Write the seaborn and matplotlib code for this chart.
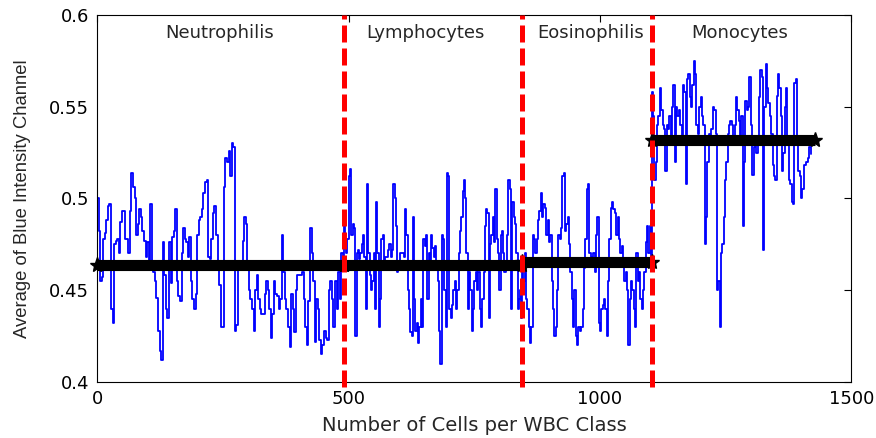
import numpy as np
import pandas as pd
import matplotlib
matplotlib.use("Agg")
import matplotlib.pyplot as plt
import seaborn as sns

# WBC classes, their cell counts and per-class mean of the blue channel
classes = ["Neutrophilis", "Lymphocytes", "Eosinophilis", "Monocytes"]
class_sizes = [490, 355, 258, 317]
class_means = [0.4635, 0.4635, 0.4655, 0.5320]

neutrophilis = [
    0.500, 0.482, 0.455, 0.457, 0.478, 0.481, 0.488, 0.496, 0.497, 0.440, 0.432, 0.475,
    0.477, 0.478, 0.470, 0.487, 0.493, 0.493, 0.478, 0.478, 0.470, 0.493, 0.514, 0.506,
    0.500, 0.480, 0.486, 0.494, 0.490, 0.482, 0.477, 0.468, 0.476, 0.466, 0.497, 0.465,
    0.460, 0.455, 0.446, 0.428, 0.417, 0.412, 0.476, 0.458, 0.440, 0.435, 0.476, 0.454,
    0.479, 0.482, 0.494, 0.455, 0.447, 0.444, 0.470, 0.484, 0.478, 0.476, 0.468, 0.479,
    0.455, 0.445, 0.440, 0.448, 0.480,
    0.488, 0.490, 0.494, 0.503, 0.509, 0.510, 0.468, 0.467, 0.478, 0.492, 0.496, 0.480,
    0.462, 0.453, 0.430, 0.430, 0.506, 0.522, 0.520, 0.526, 0.512, 0.530, 0.528, 0.428,
    0.431, 0.463, 0.463, 0.462, 0.477, 0.490, 0.486, 0.465, 0.450, 0.445, 0.440, 0.428,
    0.450, 0.458, 0.445, 0.440, 0.437, 0.437, 0.448, 0.455, 0.450, 0.440, 0.424, 0.437,
    0.455, 0.448, 0.447, 0.440, 0.445, 0.480, 0.460, 0.445, 0.440, 0.430, 0.419, 0.448,
    0.440, 0.427, 0.450, 0.458, 0.458,
    0.458, 0.460, 0.445, 0.430, 0.420, 0.444, 0.484, 0.470, 0.455, 0.422, 0.445, 0.440,
    0.423, 0.415, 0.420, 0.428, 0.424, 0.423, 0.450, 0.455, 0.445, 0.430, 0.455, 0.440,
    0.460, 0.445, 0.470, 0.468,
]
lymphocytes = [
    0.490, 0.475, 0.470, 0.478, 0.512, 0.516, 0.480, 0.486, 0.484, 0.425, 0.470, 0.472,
    0.467, 0.470, 0.475, 0.480, 0.468, 0.440, 0.508, 0.470, 0.458, 0.450, 0.455, 0.470,
    0.440, 0.498, 0.470, 0.430, 0.445, 0.478, 0.480, 0.462, 0.468, 0.468, 0.472, 0.475,
    0.468, 0.472, 0.508, 0.500, 0.485, 0.460, 0.462, 0.470, 0.470, 0.470, 0.468, 0.494,
    0.480, 0.450, 0.440, 0.427, 0.425,
    0.490, 0.445, 0.428, 0.432, 0.421, 0.430, 0.445, 0.430, 0.478, 0.474, 0.480, 0.445,
    0.470, 0.466, 0.480, 0.473, 0.468, 0.474, 0.462, 0.455, 0.428, 0.410, 0.480, 0.478,
    0.450, 0.430, 0.514, 0.512, 0.440, 0.435, 0.442, 0.450, 0.455, 0.440, 0.450, 0.470,
    0.482, 0.490, 0.504, 0.510, 0.500, 0.470, 0.440, 0.460, 0.450, 0.428, 0.440, 0.455,
    0.460, 0.450, 0.460, 0.440, 0.430, 0.445, 0.460, 0.485, 0.494, 0.492, 0.435, 0.475,
    0.480, 0.490, 0.476, 0.505, 0.478, 0.470, 0.450, 0.480, 0.482, 0.470, 0.460, 0.465,
    0.480, 0.510, 0.505, 0.440, 0.498, 0.490, 0.486, 0.470, 0.440, 0.445, 0.450, 0.435,
]
eosinophilis = [
    0.465, 0.455, 0.470, 0.445, 0.440, 0.430, 0.421, 0.430, 0.480, 0.478, 0.470, 0.478,
    0.488, 0.493, 0.503, 0.490, 0.497, 0.495, 0.480, 0.488, 0.476, 0.480, 0.455, 0.440,
    0.425, 0.430, 0.450, 0.480, 0.478, 0.484, 0.512, 0.514, 0.482, 0.486, 0.490, 0.475,
    0.460, 0.445, 0.430, 0.450, 0.425, 0.420, 0.430, 0.428, 0.430, 0.440, 0.462, 0.478,
    0.505, 0.508, 0.470, 0.465, 0.468, 0.470, 0.460, 0.480, 0.490, 0.432, 0.428, 0.440,
    0.442, 0.445, 0.440, 0.425, 0.455, 0.478, 0.495, 0.498, 0.494, 0.492, 0.480, 0.490,
    0.478, 0.470, 0.474, 0.465, 0.455, 0.460, 0.450, 0.420, 0.445, 0.455, 0.450, 0.440,
    0.430, 0.470, 0.455, 0.460, 0.445, 0.440, 0.450, 0.460, 0.476, 0.485, 0.470, 0.485,
    0.461,
]
monocytes = [
    0.558, 0.545, 0.510, 0.520, 0.540, 0.545, 0.560, 0.548, 0.540, 0.538, 0.515, 0.540,
    0.538, 0.545, 0.530, 0.550, 0.562, 0.520, 0.550, 0.545, 0.548, 0.540, 0.530, 0.562,
    0.558, 0.508, 0.565, 0.568, 0.555, 0.550, 0.562, 0.575, 0.568, 0.540, 0.535, 0.550,
    0.555, 0.545, 0.540, 0.475, 0.490, 0.520, 0.535, 0.530, 0.538, 0.550, 0.548, 0.535,
    0.450, 0.455, 0.430, 0.470, 0.475, 0.490, 0.510, 0.520, 0.535, 0.540, 0.542,
    0.540, 0.530, 0.540, 0.555, 0.548, 0.542, 0.530, 0.545, 0.485, 0.520, 0.553, 0.548,
    0.550, 0.566, 0.540, 0.513, 0.528, 0.530, 0.525, 0.530, 0.555, 0.570, 0.566, 0.472,
    0.550, 0.573, 0.560, 0.552, 0.545, 0.535, 0.518, 0.512, 0.510, 0.556, 0.568, 0.560,
    0.545, 0.515, 0.525, 0.550, 0.560, 0.530, 0.510, 0.508, 0.498, 0.497, 0.563, 0.565,
    0.530, 0.515, 0.512, 0.500, 0.505, 0.518, 0.518, 0.520, 0.522, 0.528, 0.524,
]
series = [neutrophilis, lymphocytes, eosinophilis, monocytes]

# spread the samples of each class over its range of cell numbers
edges = np.concatenate([[0], np.cumsum(class_sizes)])
frames = []
for name, vals, lo, hi in zip(classes, series, edges[:-1], edges[1:]):
    frames.append(pd.DataFrame({"cell": np.linspace(lo + 1, hi, len(vals)),
                                "blue": vals, "wbc": name}))
df = pd.concat(frames, ignore_index=True)

sns.set_style("white")
plt.rcParams["font.family"] = ["DejaVu Sans"]

fig = plt.figure(figsize=(8.76, 4.38), dpi=100)
ax = fig.add_axes([0.111, 0.128, 0.861, 0.838])

sns.lineplot(data=df, x="cell", y="blue", color="#0000ff", lw=1.3,
             estimator=None, drawstyle="steps-mid", ax=ax, zorder=2)

# class means as thick black bars
for i, m in enumerate(class_means):
    lo, hi = edges[i], edges[i + 1]
    if i == 3:
        hi = hi + 7
    ax.plot([lo, hi], [m, m], color="black", lw=8, solid_capstyle="butt",
            marker="*", markersize=11, zorder=3, clip_on=False)

# class separators (run a little past the bottom spine, as in the original)
for b in edges[1:-1]:
    ax.axvline(b, ymin=-0.015, ymax=1, color="#ff0000", lw=3.6,
               dashes=(3.4, 1.2), zorder=4, clip_on=False)

# class names
label_x = [244, 652, 981, 1278]
for name, xx in zip(classes, label_x):
    ax.text(xx, 0.590, name, ha="center", va="center", fontsize=13)

ax.set_xlim(0, 1500)
ax.set_ylim(0.4, 0.6)
ax.set_xticks([0, 500, 1000, 1500])
ax.set_yticks([0.4, 0.45, 0.5, 0.55, 0.6])
ax.set_yticklabels(["0.4", "0.45", "0.5", "0.55", "0.6"])
ax.tick_params(direction="in", top=True, right=True, length=5, width=0.8,
               labelsize=13, colors="black", pad=6)
for s in ax.spines.values():
    s.set_color("black")
    s.set_linewidth(0.8)
ax.set_xlabel("Number of Cells per WBC Class", fontsize=14)
ax.xaxis.set_label_coords(0.5, -0.093)
ax.set_ylabel("Average of Blue Intensity Channel", fontsize=13.3,
              family="Liberation Sans")
ax.yaxis.set_label_coords(-0.088, 0.5)

fig.savefig("out.png", dpi=100)
